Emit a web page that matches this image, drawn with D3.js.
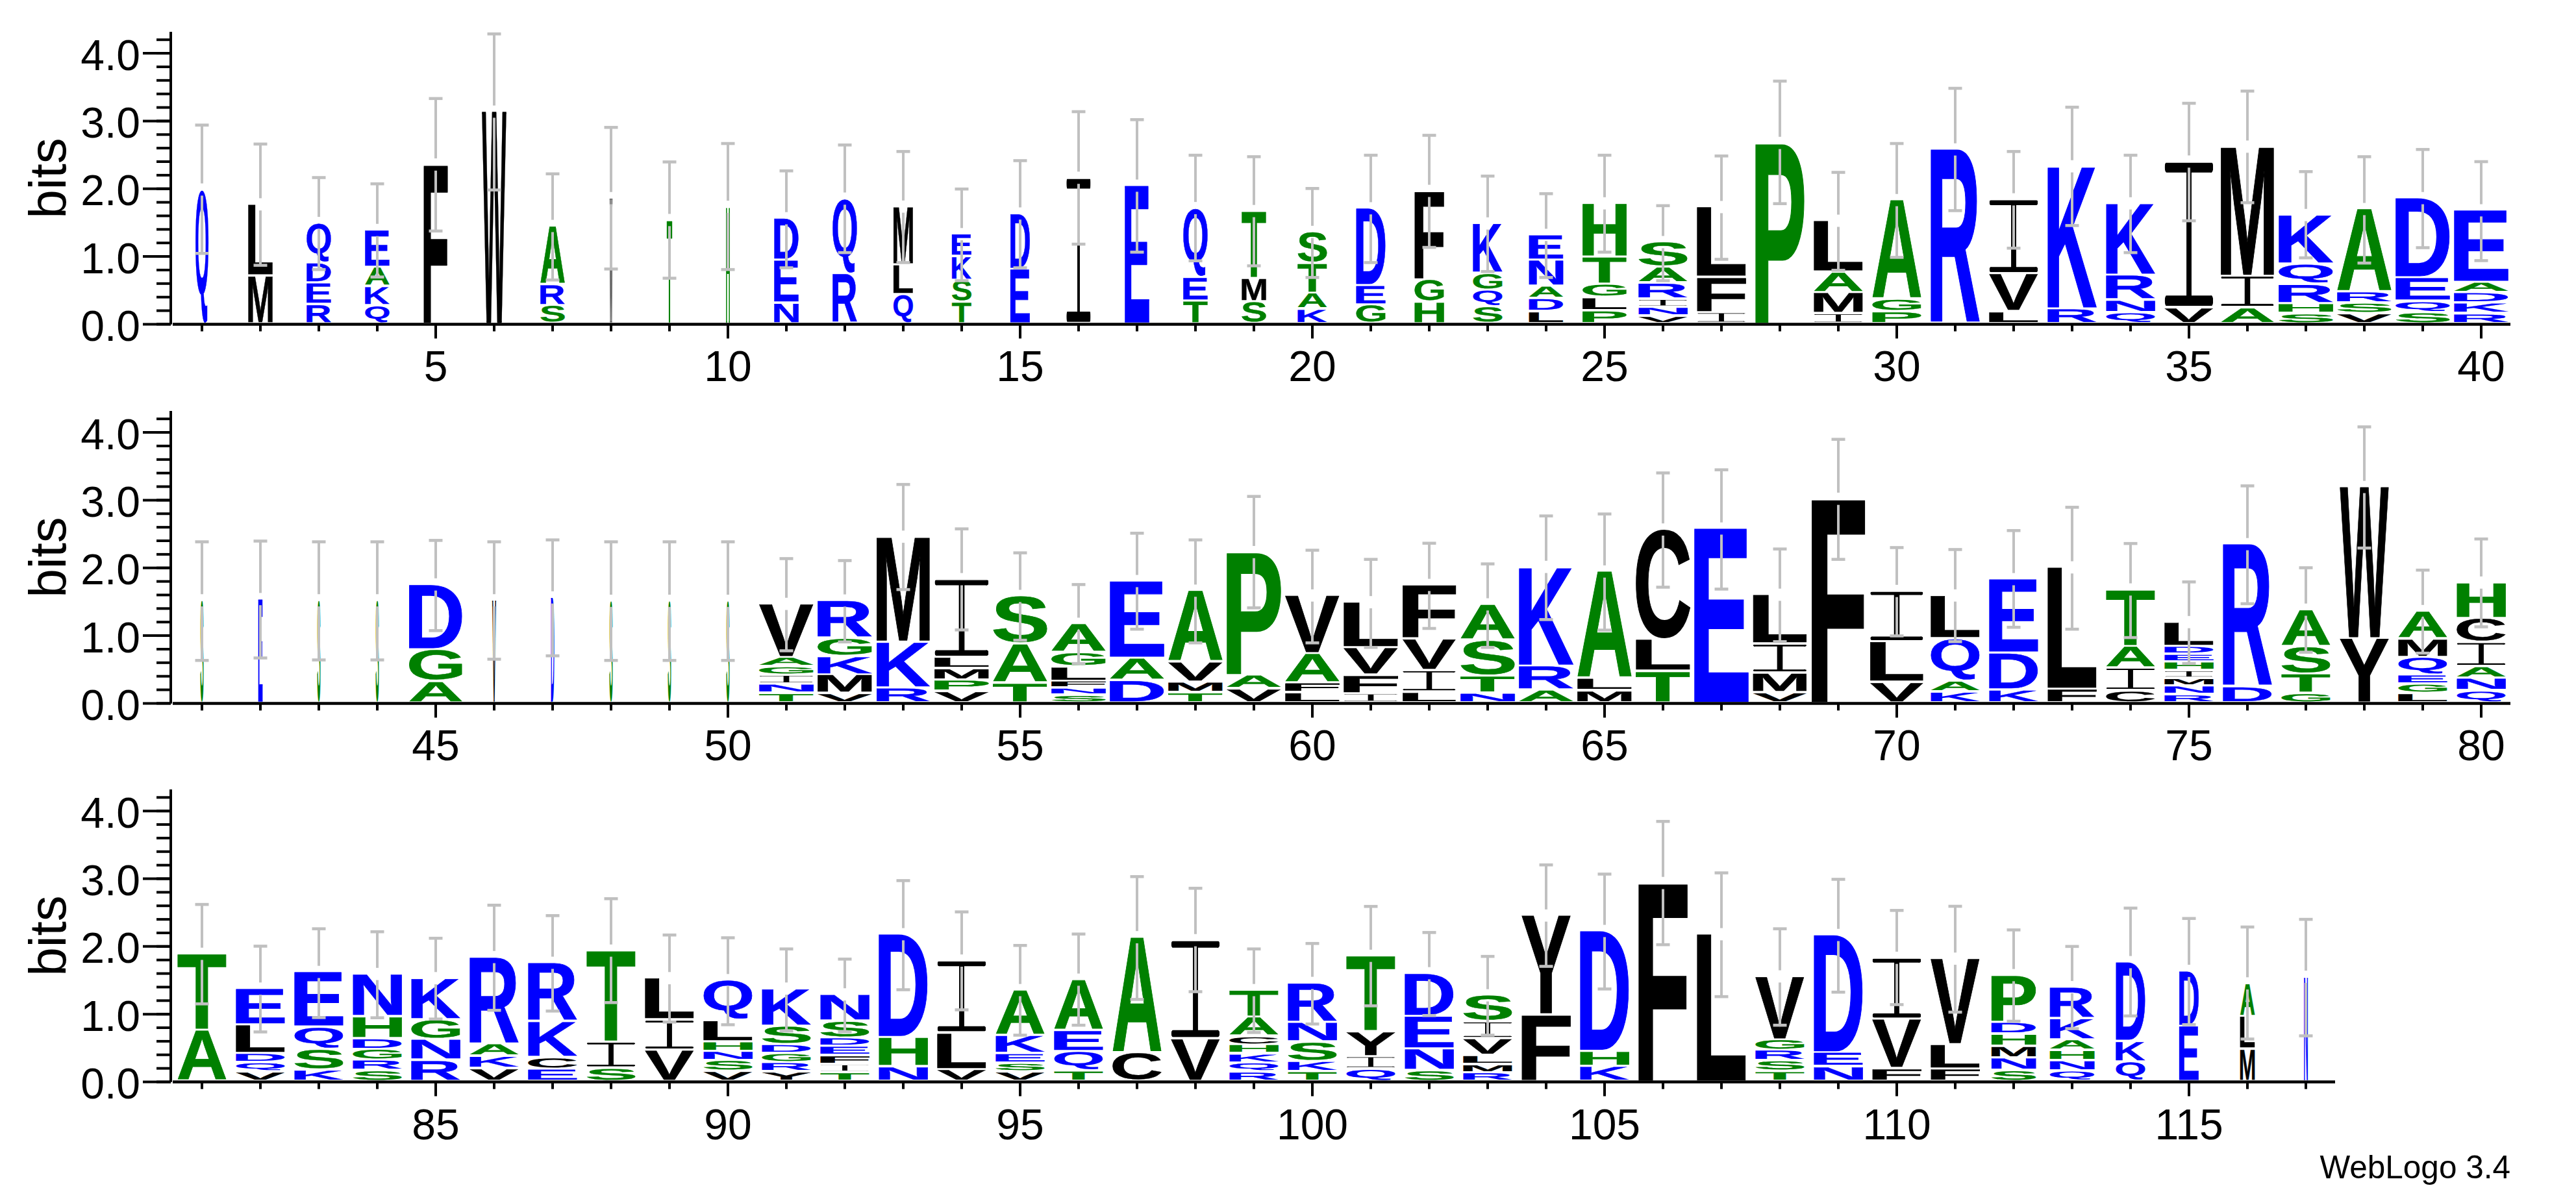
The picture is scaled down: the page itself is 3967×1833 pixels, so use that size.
<!DOCTYPE html>
<html>
<head>
<meta charset="utf-8">
<script src="https://cdn.jsdelivr.net/npm/d3@7"></script>
<style>
html,body{margin:0;padding:0;background:#fff}
svg{display:block}
text{font-family:"Liberation Sans",Arial,sans-serif}
.glyph{vector-effect:non-scaling-stroke;stroke-width:1.4px;stroke-linejoin:miter}
</style>
</head>
<body>
<svg id="logo"></svg>
<script>
// Residues per position, written bottom to top of each stack
const stackLetters = [
"Q","ML","REDQ","QKAE","F","W","SRA","W","T","H",
"NED","RQ","QLM","TSKE","ED","I","E","TEQ","SMT","KATS",
"GED","HGF","SQGK","LDANE","PLGTH","VNIRAS","IFL","P","IMAL","PGA",
"R","LVI","RK","QNRK","VI","AIM","SHRQK","VSRA","SQED","RKDAE",
"S","E","S","S","AGD","V","D","S","S","S",
"TNIGAV","VMKGR","RKM","VPMLI","TAS","SNFLGA","DAE","TMVA","VAP","LFAV",
"IFVL","LIVF","NTSA","ARK","MLA","TLC","E","VMIL","F","VLI",
"KAQL","KDE","FL","CIAT","RNMIHEDL","DR","GTSA","YW","LGEQMA","QNAICH",
"AT","VQDLE","KSQE","SRGDHN","RNGK","VKAR","ECKR","SIT","VIL","VSNHLQ",
"YRGDSK","TIFEDSN","NHD","VLI","VSEKA","TQEA","CA","VI","RQKHCAT","TKSNR",
"QIYT","SNED","RMLVIS","FY","KHD","F","L","TSRGV","NED","FVI",
"FLV","SNMHDP","QNHAKR","QKD","ED","MLA","N"
];

// Cumulative stack height in bits at the top of each letter
const stackTops = [
[1.98],[.708,1.761],[.283,.598,.892,1.486],[.268,.55,.833,1.383],[2.349],[3.13],[.268,.58,1.442],[1.853],[1.53],[1.725],
[.305,.936,1.556],[.734,1.846],[.433,.87,1.728],[.319,.642,.991,1.321],[.807,1.626],[2.154],[2.037],[.338,.686,1.706],[.323,.668,1.662],[.213,.451,.892,1.354],
[.275,.561,1.703],[.319,.653,1.96],[.246,.495,.741,1.479],[.176,.367,.55,.936,1.31],[.191,.385,.58,.983,1.776],[.11,.239,.36,.598,.833,1.204],[.165,.686,1.721],[2.668],[.147,.459,.763,1.519],[.176,.36,1.824],
[2.572],[.176,.734,1.835],[.224,2.323],[.165,.349,.716,1.776],[.235,2.393],[.235,.705,2.613],[.147,.294,.58,.877,1.604],[.147,.301,.466,1.692],[.165,.33,.675,1.853],[.147,.301,.455,.609,1.673],
[1.513],[1.531],[1.513],[1.513],[.315,.787,1.747],[1.513],[1.556],[1.506],[1.506],[1.506],
[.138,.273,.408,.532,.67,1.46],[.138,.415,.687,.953,1.51],[.223,.9,2.452],[.167,.333,.503,.67,1.825],[.291,.868,1.577],[.113,.216,.319,.532,.741,1.166],[.33,.659,1.797],[.149,.305,.602,1.655],[.206,.408,2.225],[.149,.291,.726,1.584],
[.135,.408,.811,1.485],[.156,.478,.943,1.74],[.142,.397,.925,1.453],[.191,.549,2.006],[.177,.358,1.938],[.464,.932,2.558],[2.573],[.149,.436,.868,1.595],[3.012],[.301,.9,1.651],
[.159,.319,.946,1.584],[.191,.734,1.825],[.206,1.999],[.177,.514,.836,1.673],[.12,.245,.358,.475,.602,.716,.833,1.191],[.237,2.342],[.138,.425,.829,1.375],[.953,3.186],[.138,.273,.408,.673,.946,1.354],[.177,.361,.532,.893,1.247,1.775],
[.752,1.883],[.139,.275,.411,.833,1.369],[.169,.473,.8,1.615],[.158,.312,.473,.631,.954,1.585],[.312,.62,.91,1.523],[.187,.367,.55,1.835],[.18,.349,.881,1.75],[.194,.58,1.93],[.459,.906,1.523],[.147,.305,.444,.587,.899,1.494],
[.139,.275,.411,.543,.815,1.369],[.128,.25,.378,.514,.639,.888,1.284],[.217,.65,2.172],[.176,.712,1.783],[.139,.264,.407,.675,1.347],[.154,.444,.752,1.501],[.422,2.128],[.628,2.084],[.139,.272,.407,.539,.664,.947,1.347],[.143,.294,.58,.87,1.453],
[.183,.367,.734,1.853],[.158,.477,.961,1.596],[.128,.25,.382,.628,.881,1.27],[.983,2.448],[.224,.448,2.22],[2.928],[2.172],[.147,.301,.459,.617,1.549],[.217,.426,2.161],[.187,.914,1.824],
[.185,.546,1.811],[.161,.346,.519,.699,.872,1.568],[.153,.306,.456,.613,.927,1.391],[.291,.593,1.76],[.817,1.631],[.475,.959,1.446],[1.544]
];

// Lower and upper ends of each error bar, in bits
const errorLow = [
1.046,.87,.807,.697,1.376,1.982,.653,.815,.679,.807,
.833,1.057,.91,.642,.833,1.182,1.064,.936,.862,.69,
.91,1.134,.778,.69,1.064,.642,.958,1.78,.796,.987,
1.677,1.123,1.457,1.057,1.527,1.794,.98,.903,1.13,.939,
.634,.67,.641,.641,1.074,.652,.702,.634,.634,.634,
.776,.907,1.68,1.084,.932,.588,1.095,.893,1.41,.893,
.826,1.106,.826,1.237,1.081,1.715,1.687,.911,2.126,.996,
.911,1.123,1.095,.971,.588,1.471,.755,2.293,.741,1.13,
1.152,.738,.95,.947,.928,1.057,1.046,1.171,.884,.844,
.752,.741,1.361,1.064,.69,.837,1.218,1.332,.73,.855,
1.123,.98,.69,1.706,1.372,2.026,1.259,.837,1.325,1.141,
1.03,.896,.786,.974,.845,.633,.68
];
const errorHigh = [
2.94,2.66,2.165,2.073,3.332,4.286,2.22,2.906,2.396,2.668,
2.264,2.646,2.55,1.996,2.415,3.138,3.02,2.495,2.473,2.004,
2.495,2.789,2.187,1.927,2.495,1.75,2.484,3.589,2.242,2.668,
3.483,2.55,3.204,2.495,3.262,3.442,2.253,2.473,2.58,2.4,
2.385,2.396,2.385,2.385,2.406,2.385,2.413,2.385,2.385,2.385,
2.137,2.108,3.232,2.576,2.222,1.754,2.512,2.413,3.055,2.261,
2.126,2.364,2.059,2.767,2.796,3.402,3.448,2.279,3.898,2.3,
2.271,2.551,2.895,2.36,1.793,3.211,2.002,4.082,1.967,2.427,
2.62,2.004,2.261,2.217,2.121,2.609,2.455,2.705,2.169,2.128,
1.963,1.813,2.972,2.51,2.015,2.183,3.031,2.859,1.963,2.044,
2.591,2.206,1.853,3.204,3.068,3.846,3.086,2.261,2.991,2.532,
2.593,2.244,2.0,2.566,2.413,2.287,2.4
];

// Column weight (share of non-gap residues), drives letter width
const columnWeights = [
.24,.45,.45,.45,.44,.45,.45,.05,.1,.07,
.45,.45,.36,.36,.36,.45,.45,.45,.45,.54,
.54,.54,.54,.63,.81,.9,.9,.9,.9,.9,
.9,.9,.9,.9,.9,.98,1,1,1,1,
.06,.08,.06,.06,.98,.07,.06,.06,.06,.06,
1,1,.98,1,1,1,1,1,1,1,
1,.98,1,1,1,1,1,.99,.98,.98,
.9,.9,.9,.9,.9,.9,.9,.9,.9,.9,
.9,.9,.9,.9,.9,.9,.9,.9,.9,.9,
.9,.9,.9,.9,.9,.9,.9,.9,.9,.9,
.9,.9,.9,.9,.9,.9,.9,.9,.9,.9,
.9,.82,.82,.54,.36,.27,.07
];

const blueLetters = "DEKNQR";
const greenLetters = "AGHPST";
const blackLetters = "CFILMVWY";
const letterColors = {blue:"#0000ff", green:"#008000", black:"#000000"};

const rowSpans = [[1,40],[41,80],[81,117]];
const rowBaselines = [499.4,1083.4,1666.5];
const majorBits = [0,1,2,3,4];
const minorBits = [0,.2,.4,.6,.8,1,1.2,1.4,1.6,1.8,2,2.2,2.4,2.6,2.8,3,3.2,3.4,3.6,3.8,4,4.2];
const yLabel = "bits";
const creditLabel = "WebLogo 3.4";

const W = 3967, H = 1833;
const axisX = 263, firstX = 266, step = 90, fullWidth = 83, bitPx = 104.33;
const FONT = '"Liberation Sans",Arial,sans-serif';
const GLYPH = 200;

const svg = d3.select("#logo").attr("width",W).attr("height",H).attr("viewBox",`0 0 ${W} ${H}`);
svg.append("rect").attr("width",W).attr("height",H).attr("fill","#fff");

// ink box of each glyph so each letter can be stretched to fill its slot
const ctx = document.createElement("canvas").getContext("2d");
ctx.font = `bold ${GLYPH}px ${FONT}`;
const inkCache = {};
function ink(ch){
  if(!inkCache[ch]){
    const m = ctx.measureText(ch);
    const l = -m.actualBoundingBoxLeft, r = m.actualBoundingBoxRight;
    const a = m.actualBoundingBoxAscent, d = m.actualBoundingBoxDescent;
    inkCache[ch] = {l, a, w:r-l, h:a+d};
  }
  return inkCache[ch];
}
function color(ch){
  if(blueLetters.includes(ch)) return letterColors.blue;
  if(greenLetters.includes(ch)) return letterColors.green;
  return letterColors.black;
}

// The logo's I has rounded bars and a thin stem
const iInk = ink("I");
const clip = svg.append("defs").append("clipPath").attr("id","serifI").attr("clipPathUnits","userSpaceOnUse");
const barH = iInk.h*.072, stemW = iInk.w*.105;
[[iInk.l, -iInk.a, iInk.w, barH, iInk.w*.04, barH/2],
 [iInk.l, -iInk.a+iInk.h-barH, iInk.w, barH, iInk.w*.04, barH/2],
 [iInk.l+(iInk.w-stemW)/2, -iInk.a, stemW, iInk.h, 0, 0]].forEach(r=>{
  clip.append("rect").attr("x",r[0]).attr("y",r[1]).attr("width",r[2]).attr("height",r[3]).attr("rx",r[4]).attr("ry",r[5]);
});

const widthScale = d3.scaleLinear().domain([0,1]).range([0,fullWidth]);
const gapPx = 3.6;

rowSpans.forEach((span,ri)=>{
  const [from,to] = span;
  const y0 = rowBaselines[ri];
  const x = d3.scaleLinear().domain([from-.5,to+.5]).range([firstX, firstX+(to-from+1)*step]);
  const y = d3.scaleLinear().domain([0,4.318]).range([y0, y0-4.318*bitPx]);
  const row = svg.append("g").attr("class","row");
  const positions = d3.range(from,to+1);

  // letters
  const cols = row.append("g").attr("class","stacks").selectAll("g").data(positions).join("g");
  cols.each(function(pos){
    const letters = stackLetters[pos-1], tops = stackTops[pos-1];
    const w = widthScale(columnWeights[pos-1]);
    const g = d3.select(this);
    letters.split("").forEach((ch,i)=>{
      const yTop = y(tops[i]);
      const yBot = (i? y(tops[i-1]) : y(0)) - gapPx;
      const m = ink(ch);
      const t = g.append("text")
        .text(ch)
        .attr("class","glyph")
        .attr("font-size",GLYPH).attr("font-weight","bold")
        .attr("text-rendering","geometricPrecision")
        .attr("fill",color(ch)).attr("stroke",color(ch))
        .attr("transform",`translate(${x(pos)-w/2},${yTop}) scale(${w/m.w},${(yBot-yTop)/m.h}) translate(${-m.l},${m.a})`);
      if(ch==="I") t.attr("clip-path","url(#serifI)");
    });
  });

  // error bars, open around the top of the stack
  const bars = row.append("g").attr("class","errors").attr("stroke","#c0c0c0").attr("fill","none");
  positions.forEach(pos=>{
    const tops = stackTops[pos-1];
    const top = y(tops[tops.length-1]);
    const hi = y(errorHigh[pos-1]), lo = y(errorLow[pos-1]);
    const cx = x(pos);
    bars.append("line").attr("x1",cx).attr("x2",cx).attr("y1",hi).attr("y2",top-10.3).attr("stroke-width",4);
    bars.append("line").attr("x1",cx).attr("x2",cx).attr("y1",top+8.5).attr("y2",lo).attr("stroke-width",4);
    bars.append("line").attr("x1",cx-10.5).attr("x2",cx+10.5).attr("y1",hi).attr("y2",hi).attr("stroke-width",4.6);
    bars.append("line").attr("x1",cx-10.5).attr("x2",cx+10.5).attr("y1",lo).attr("y2",lo).attr("stroke-width",4.6);
  });

  // x axis
  const xMinor = d3.axisBottom(x).tickValues(positions).tickSize(11).tickSizeOuter(0).tickFormat("").offset(0);
  const xMajor = d3.axisBottom(x).tickValues(positions.filter(p=>p%5===0)).tickSize(22).tickSizeOuter(0).tickFormat(d3.format("d")).offset(0);
  const gxm = row.append("g").attr("transform",`translate(0,${y0})`).call(xMinor);
  const gxM = row.append("g").attr("transform",`translate(0,${y0})`).call(xMajor);
  gxM.selectAll("text").attr("y",88).attr("dy",0);

  // y axis
  const yMinor = d3.axisLeft(y).tickValues(minorBits).tickSize(22).tickSizeOuter(0).tickFormat("").offset(0);
  const yMajor = d3.axisLeft(y).tickValues(majorBits).tickSize(43).tickSizeOuter(0).tickFormat(d3.format(".1f")).offset(0);
  const gym = row.append("g").attr("transform",`translate(${axisX},0)`).call(yMinor);
  const gyM = row.append("g").attr("transform",`translate(${axisX},0)`).call(yMajor);
  gyM.selectAll("text").attr("x",-47).attr("y",25.5).attr("dy",0);

  [gxm,gxM,gym,gyM].forEach(a=>{
    a.selectAll("path.domain,line").attr("stroke","#000").attr("stroke-width",4);
    a.selectAll("text").attr("font-size",66).attr("font-family",FONT).attr("fill","#000");
    a.attr("font-size",null).attr("font-family",null);
  });

  row.append("text")
    .text(yLabel)
    .attr("transform",`translate(101,${y0-225}) rotate(-90)`)
    .attr("text-anchor","middle")
    .attr("font-size",80).attr("fill","#000");
});

svg.append("text").text(creditLabel)
  .attr("x",3866).attr("y",1815)
  .attr("text-anchor","end")
  .attr("font-size",49.5).attr("fill","#000");
</script>
</body>
</html>
